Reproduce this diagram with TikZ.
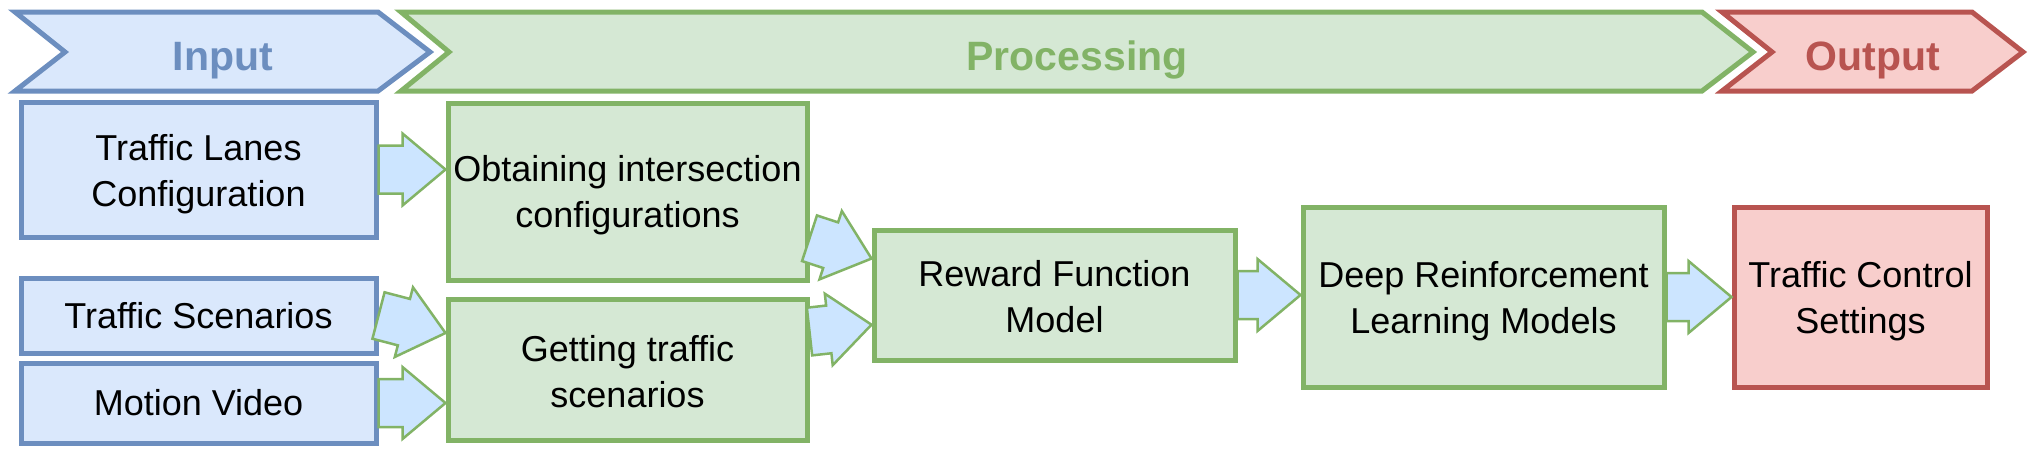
\documentclass[tikz,border=0pt]{standalone}
\usepackage{fontspec}
\setmainfont{Liberation Sans}
\usetikzlibrary{calc}
\definecolor{bluefill}{HTML}{DAE8FC}
\definecolor{bluestroke}{HTML}{6C8EBF}
\definecolor{greenfill}{HTML}{D5E8D4}
\definecolor{greenstroke}{HTML}{82B366}
\definecolor{redfill}{HTML}{F8CECC}
\definecolor{redstroke}{HTML}{B85450}
\definecolor{arrowfill}{HTML}{CCE5FF}
\newcommand\flexarr[2]{%
  \coordinate (fa) at (#1);
  \coordinate (fb) at (#2);
  \coordinate (fh) at ($(fb)!43pt!(fa)$);
  \draw[farrow] ($(fa)!24pt!90:(fb)$) -- ($(fh)!24pt!90:(fb)$) -- ($(fh)!36pt!90:(fb)$) -- (fb)
    -- ($(fh)!36pt!-90:(fb)$) -- ($(fh)!24pt!-90:(fb)$) -- ($(fa)!24pt!-90:(fb)$) -- cycle;
}
\begin{document}
\begin{tikzpicture}[x=1pt,y=-1pt,
  chev/.style={line width=5pt, line join=miter},
  headtxt/.style={font=\fontsize{41}{49}\selectfont\bfseries, anchor=base, inner sep=0pt},
  box/.style={rectangle, line width=5pt, inner sep=0pt},
  boxtxt/.style={inner sep=0pt, align=center, font=\fontsize{36}{46}\selectfont},
  bluebox/.style={box, draw=bluestroke, fill=bluefill},
  greenbox/.style={box, draw=greenstroke, fill=greenfill},
  redbox/.style={box, draw=redstroke, fill=redfill},
  farrow/.style={draw=greenstroke, fill=arrowfill, line width=2.5pt, line join=miter}]
\useasboundingbox (0,0) rectangle (2037,461);
% header chevrons
\draw[chev, draw=bluestroke, fill=bluefill] (15,12) -- (378,12) -- (430,52) -- (378,91) -- (15,91) -- (65,52) -- cycle;
\draw[chev, draw=greenstroke, fill=greenfill] (401,12) -- (1702,12) -- (1753,52) -- (1702,91) -- (401,91) -- (449,52) -- cycle;
\draw[chev, draw=redstroke, fill=redfill] (1722,12) -- (1972,12) -- (2023,52) -- (1972,91) -- (1722,91) -- (1772,52) -- cycle;
\node[headtxt, text=bluestroke] (hin) at (223,70) {Input};
\node[headtxt, text=greenstroke] (hproc) at (1077,70) {Processing};
\node[headtxt, text=redstroke] (hout) at (1873,70) {Output};
% boxes
\node[bluebox, minimum width=355pt, minimum height=135pt] (lanes) at (198.5,169.5) {};
\node[bluebox, minimum width=355pt, minimum height=75pt] (ts) at (198.5,315.5) {};
\node[bluebox, minimum width=355pt, minimum height=80pt] (mv) at (198.5,403) {};
\node[greenbox, minimum width=359pt, minimum height=177pt] (obt) at (627.5,191.5) {};
\node[greenbox, minimum width=359pt, minimum height=141pt] (get) at (627.5,369.5) {};
\node[greenbox, minimum width=361pt, minimum height=130pt] (rew) at (1054.5,295) {};
\node[greenbox, minimum width=361pt, minimum height=180pt] (deep) at (1483.5,297) {};
\node[redbox, minimum width=253pt, minimum height=180pt] (tcs) at (1860.5,297) {};
% box texts
\node[boxtxt] (lanesT) at ([yshift=-5pt]lanes.center) {Traffic Lanes\\Configuration};
\node[boxtxt] (tsT) at (ts.center) {Traffic Scenarios};
\node[boxtxt] (mvT) at (mv.center) {Motion Video};
\node[boxtxt] (obtT) at ([yshift=-4pt]obt.center) {Obtaining intersection\\configurations};
\node[boxtxt] (getT) at ([yshift=-2pt]get.center) {Getting traffic\\scenarios};
\node[boxtxt] (rewT) at ([yshift=-2pt]rew.center) {Reward Function\\Model};
\node[boxtxt] (deepT) at ([yshift=-4pt]deep.center) {Deep Reinforcement\\Learning Models};
\node[boxtxt] (tcsT) at ([yshift=-4pt]tcs.center) {Traffic Control\\Settings};
% connector end points
\coordinate (getA) at ($(get.north west)!0.25!(get.south west)$);
\coordinate (obtB) at ($(obt.north east)!0.757!(obt.south east)$);
\coordinate (rewA) at ($(rew.north west)!0.23!(rew.south west)$);
\coordinate (getB) at ($(get.north east)!0.24!(get.south east)$);
\coordinate (rewB) at ($(rew.north west)!0.72!(rew.south west)$);
% block arrows
\flexarr{lanes.east}{obt.west |- lanes.east}
\flexarr{ts.east}{getA}
\flexarr{mv.east}{get.west |- mv.east}
\flexarr{obtB}{rewA}
\flexarr{getB}{rewB}
\flexarr{rew.east}{deep.west |- rew.east}
\flexarr{deep.east}{tcs.west |- deep.east}
\end{tikzpicture}
\end{document}
